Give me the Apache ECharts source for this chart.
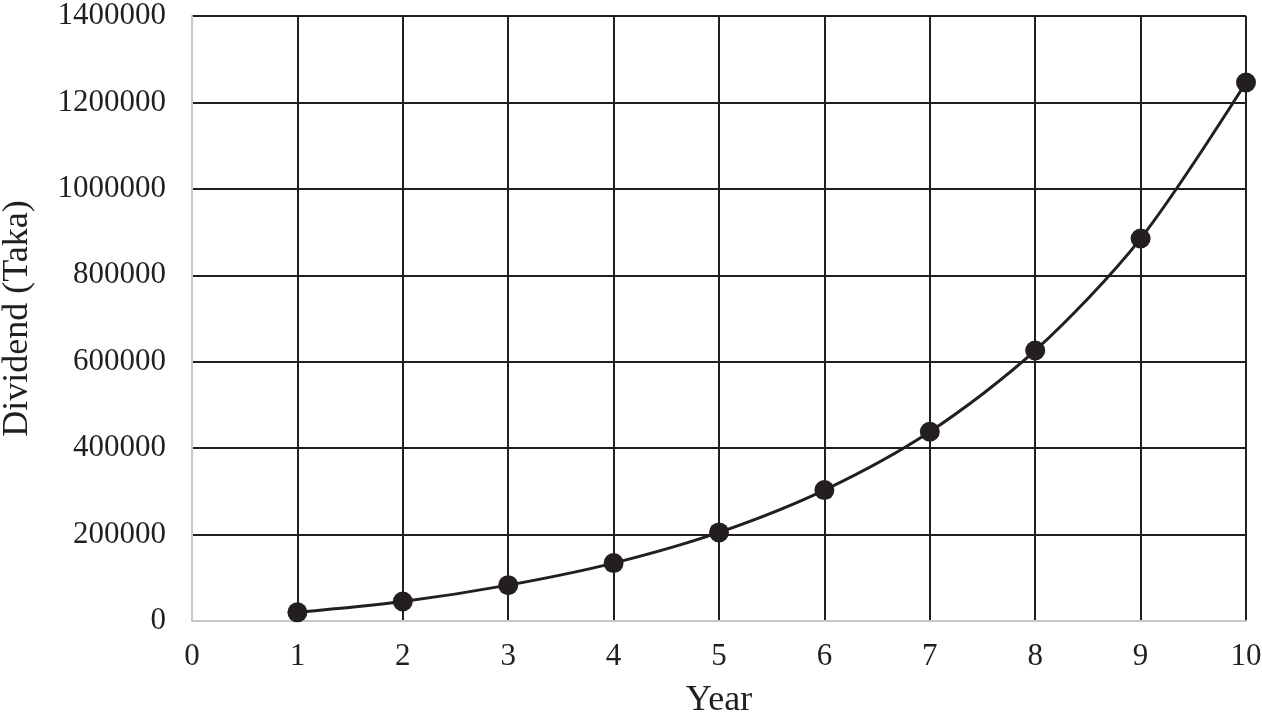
<!DOCTYPE html>
<html>
<head>
<meta charset="utf-8">
<script src="https://cdn.jsdelivr.net/npm/echarts@6/dist/echarts.min.js"></script>
<style>
html,body{margin:0;padding:0;background:#fff;}
#chart{width:1262px;height:722px;}
</style>
</head>
<body>
<div id="chart"></div>
<script>
var years = [1, 2, 3, 4, 5, 6, 7, 8, 9, 10];
var dividends = [20000, 45000, 83000, 134000, 205000, 303000, 438000, 626000, 885000, 1246000];

var font = '"Liberation Serif", "DejaVu Serif", serif';
var chart = echarts.init(document.getElementById('chart'));

chart.setOption({
  animation: false,
  grid: {
    left: 192,
    right: 16,
    top: 16,
    bottom: 101,
    outerBoundsMode: 'none'
  },
  xAxis: {
    type: 'value',
    min: 0,
    max: 10,
    interval: 1,
    name: 'Year',
    nameLocation: 'middle',
    nameGap: 62,
    nameTextStyle: { fontFamily: font, fontSize: 36, color: '#231f20' },
    axisLine: { lineStyle: { color: '#c8c8c8', width: 2 } },
    axisTick: { show: false },
    axisLabel: { fontFamily: font, fontSize: 31, color: '#231f20', margin: 20 },
    splitLine: { lineStyle: { color: '#231f20', width: 2 } }
  },
  yAxis: {
    type: 'value',
    min: 0,
    max: 1400000,
    interval: 200000,
    name: 'Dividend (Taka)',
    nameLocation: 'middle',
    nameGap: 156,
    nameTextStyle: { fontFamily: font, fontSize: 36, color: '#231f20' },
    axisLine: { show: true, lineStyle: { color: '#c8c8c8', width: 2 } },
    axisTick: { show: false },
    axisLabel: {
      fontFamily: font, fontSize: 31, color: '#231f20', margin: 26,
      formatter: function (v) { return String(v); }
    },
    splitLine: { lineStyle: { color: '#231f20', width: 2 } }
  },
  series: [{
    type: 'line',
    smooth: 0.3,
    data: years.map(function (y, i) { return [y, dividends[i]]; }),
    symbol: 'circle',
    symbolSize: 20,
    lineStyle: { color: '#231f20', width: 3 },
    itemStyle: { color: '#231f20' }
  }]
});
</script>
</body>
</html>
